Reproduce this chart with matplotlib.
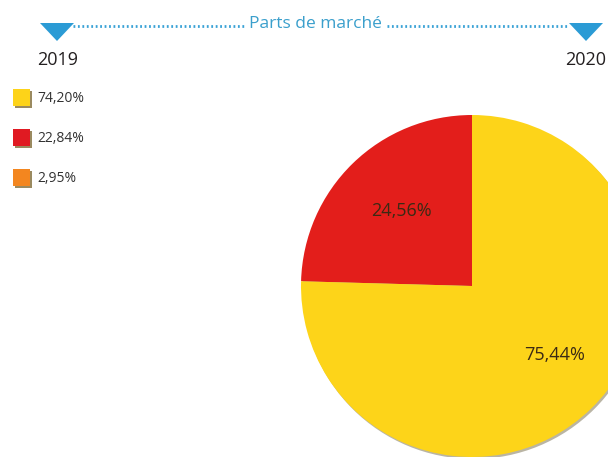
import matplotlib.pyplot as plt
from matplotlib.patches import Polygon, Rectangle, Circle

# data
years = ['2019', '2020']
shares_2019 = [74.20, 22.84, 2.95]
shares_2020 = [24.56, 75.44]
colors_2019 = ['#fdd319', '#e01a22', '#f3861f']
colors_2020 = ['#e31e1b', '#fdd419']
title = 'Parts de marché'

W, H = 608, 457
blue = '#2b9bd5'
font = 'Open Sans'

fig = plt.figure(figsize=(W / 100, H / 100), dpi=100)
ax = fig.add_axes([0, 0, 1, 1])


def py(y):
    # pixel row (from top) -> data y
    return H - y


# pie for 2020, cut off by the figure edge
cx, cy, r = 472, py(286), 171
ax.add_patch(Circle((cx + 1.5, cy - 2), r, color='#8c8468', lw=0, alpha=0.6))
wedges, _ = ax.pie(shares_2020, colors=colors_2020, startangle=90,
                   counterclock=True, radius=r, center=(cx, cy),
                   wedgeprops=dict(linewidth=0))
label_pos = [(401, 211), (555, 355)]
for val, (x, y) in zip(shares_2020, label_pos):
    ax.text(x, py(y), f'{val:.2f}%'.replace('.', ','), ha='center', va='center',
            fontsize=13, color='#3b2a14', family=font)

# header line with markers
dot_y = py(25.5)
for x0, x1 in [(73, 245), (387, 569)]:
    ax.plot([x0, x1], [dot_y, dot_y], ls=(0, (0.65, 0.95)), lw=2.0,
            color='#3aa2d6')
for tx in [57, 586]:
    ax.add_patch(Polygon([(tx - 17, py(23)), (tx + 17, py(23)), (tx, py(41))],
                         closed=True, color=blue, lw=0))
ax.text(315, py(28), title, ha='center', va='baseline', fontsize=12.5,
        color='#3a9fcc', family=font)
ax.text(37, py(60), years[0], ha='left', va='center', fontsize=13,
        color='#231f20', family=font)
ax.text(606, py(60), years[1], ha='right', va='center', fontsize=13,
        color='#231f20', family=font)

# legend for 2019
for i, (val, c) in enumerate(zip(shares_2019, colors_2019)):
    yc = 98 + i * 40
    ax.add_patch(Rectangle((14.5, py(yc + 9.5)), 17, 17, color='#9a8a60', lw=0))
    ax.add_patch(Rectangle((13, py(yc + 8)), 17, 17, color=c, lw=0))
    ax.text(37, py(yc), f'{val:.2f}%'.replace('.', ','), ha='left', va='center',
            fontsize=10, color='#333333', family=font)

ax.set_xlim(0, W)
ax.set_ylim(0, H)
ax.set_aspect('auto')
ax.set_axis_off()
fig.savefig('out.png', dpi=100)
